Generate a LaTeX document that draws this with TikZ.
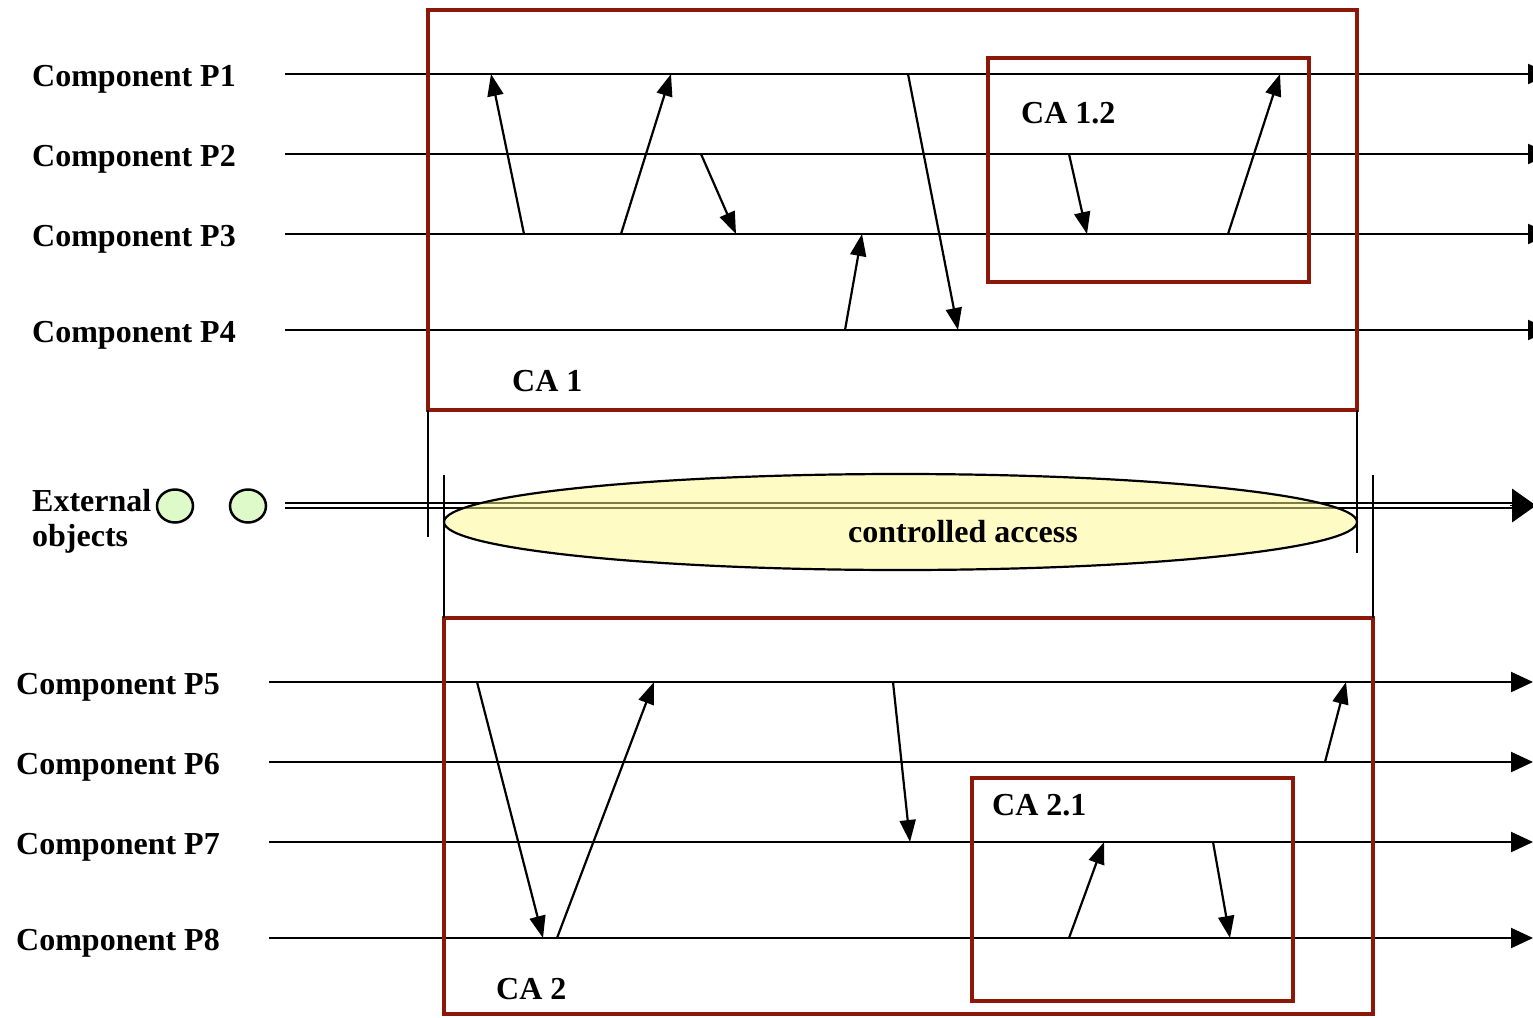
\documentclass[tikz,border=0pt]{standalone}
\usepackage{fontspec}
\setmainfont{Liberation Serif}
\usetikzlibrary{arrows.meta,shapes.geometric}
\definecolor{boxred}{RGB}{140,24,10}
\definecolor{ellfill}{RGB}{255,248,140}
\definecolor{objfill}{RGB}{222,250,200}
\begin{document}
\begin{tikzpicture}[x=1pt,y=-1pt,
  lbl/.style={font=\fontsize{32}{35}\selectfont\bfseries, inner sep=0pt, anchor=west},
  life/.style={line width=2.2pt, -{Triangle[length=22pt,width=20pt]}},
  msg/.style={line width=2.2pt, -{Triangle[length=22pt,width=16pt]}},
  cabox/.style={draw=boxred, line width=4.5pt},
  tick/.style={line width=2.2pt}]
\useasboundingbox (0,0) rectangle (1533,1017);

% ---- top components
\foreach \n/\y in {1/74,2/154,3/234,4/330}{
  \node[lbl] (L\n) at (32,\y+5) {Component P\n};
  \coordinate (s\n) at (285,\y);
  \coordinate (e\n) at (1550,\y);
  \draw[life] (s\n) -- (e\n);
}
% ---- bottom components
\foreach \n/\y in {5/682,6/762,7/842,8/938}{
  \node[lbl] (L\n) at (16,\y+5) {Component P\n};
  \coordinate (s\n) at (269,\y);
  \coordinate (e\n) at (1533,\y);
  \draw[life] (s\n) -- (e\n);
}

% ---- CA boxes
\draw[cabox] (428,10) rectangle (1357,410);
\node[lbl] (ca1l) at (512,381) {CA 1};
\draw[cabox] (988,58) rectangle (1309,282);
\node[lbl] (ca12l) at (1021,113) {CA 1.2};
\draw[cabox] (444,618) rectangle (1373,1014);
\node[lbl] (ca2l) at (496,989) {CA 2};
\draw[cabox] (972,778) rectangle (1293,1001);
\node[lbl] (ca21l) at (992,805) {CA 2.1};

% ---- messages top
\coordinate (a1) at (524,234); \coordinate (b1) at (491,74);
\coordinate (a2) at (621,234); \coordinate (b2) at (671,74);
\coordinate (a3) at (701,154); \coordinate (b3) at (736,234);
\coordinate (a4) at (845,330); \coordinate (b4) at (862,234);
\coordinate (a5) at (908,74);  \coordinate (b5) at (958,330);
\coordinate (a6) at (1069,154);\coordinate (b6) at (1087,234);
\coordinate (a7) at (1228,234);\coordinate (b7) at (1280,74);
% ---- messages bottom
\coordinate (a8) at (477,682); \coordinate (b8) at (543,938);
\coordinate (a9) at (557,938); \coordinate (b9) at (654,682);
\coordinate (a10) at (893,682);\coordinate (b10) at (910,842);
\coordinate (a11) at (1325,762);\coordinate (b11) at (1346,682);
\coordinate (a12) at (1069,938);\coordinate (b12) at (1104,842);
\coordinate (a13) at (1213,842);\coordinate (b13) at (1230,938);
\foreach \i in {1,...,13}{\draw[msg] (a\i) -- (b\i);}

% ---- external objects
\node[lbl, anchor=base west] (ext1) at (32,511) {External};
\node[lbl, anchor=base west] (ext2) at (32,546) {objects};
\node[draw, line width=2.5pt, fill=objfill, ellipse, minimum width=36pt, minimum height=33pt, inner sep=0pt] (o1) at (175,506) {};
\node[draw, line width=2.5pt, fill=objfill, ellipse, minimum width=36pt, minimum height=33pt, inner sep=0pt] (o2) at (248,506) {};
\coordinate (xs1) at (285,503); \coordinate (xe1) at (1515,503);
\coordinate (xs2) at (285,508); \coordinate (xe2) at (1515,508);
\draw[line width=2.2pt] (xs1) -- (xe1);
\draw[line width=2.2pt] (xs2) -- (xe2);
\coordinate (xa) at (1510,505.5); \coordinate (xb) at (1536,505.5);
\draw[line width=0pt, -{Triangle[length=24pt,width=34pt]}] (xa) -- (xb);

% ---- controlled access ellipse
\node[ellipse, draw=black, line width=2.2pt, fill=ellfill, fill opacity=0.5, draw opacity=1,
      minimum width=913pt, minimum height=96pt, inner sep=0pt] (acc) at (900.5,522) {};
\node[lbl, anchor=center] (accl) at (963,532) {controlled access};

% ---- vertical ticks
\coordinate (t1a) at (428,410); \coordinate (t1b) at (428,537);
\coordinate (t2a) at (444,475); \coordinate (t2b) at (444,618);
\coordinate (t3a) at (1357,410); \coordinate (t3b) at (1357,553);
\coordinate (t4a) at (1373,475); \coordinate (t4b) at (1373,618);
\draw[tick] (t1a) -- (t1b);
\draw[tick] (t2a) -- (t2b);
\draw[tick] (t3a) -- (t3b);
\draw[tick] (t4a) -- (t4b);
\end{tikzpicture}
\end{document}
